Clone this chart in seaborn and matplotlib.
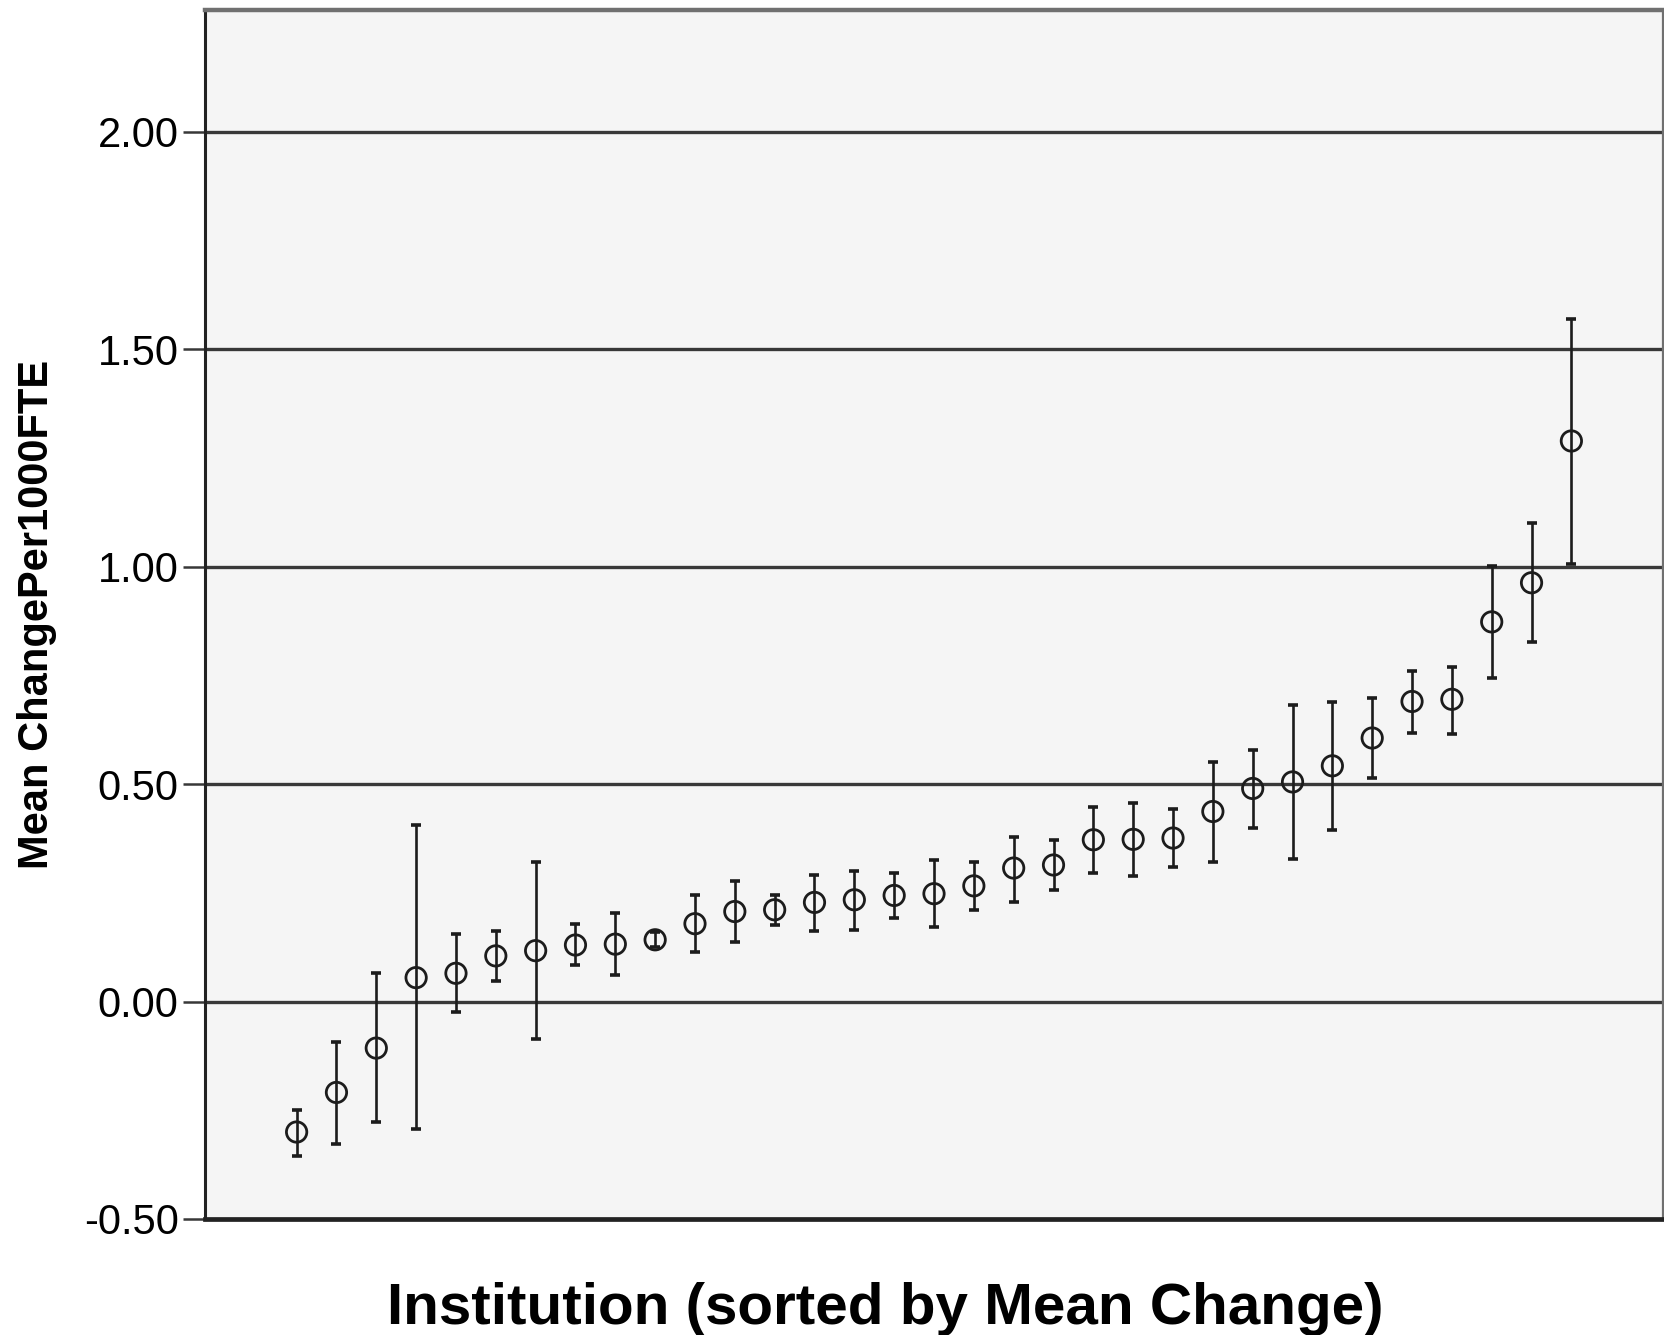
import numpy as np
import pandas as pd
import matplotlib
matplotlib.use("Agg")
import matplotlib.pyplot as plt
import seaborn as sns

# Mean change per 1000 FTE by institution, sorted ascending, with interval bounds
mean_change = [-0.300, -0.209, -0.107, 0.055, 0.065, 0.105, 0.117, 0.130, 0.132,
               0.142, 0.179, 0.207, 0.211, 0.228, 0.234, 0.244, 0.248, 0.266,
               0.307, 0.314, 0.372, 0.373, 0.376, 0.437, 0.490, 0.505, 0.542,
               0.606, 0.690, 0.695, 0.873, 0.963, 1.289]
upper_bound = [-0.249, -0.092, 0.065, 0.405, 0.156, 0.163, 0.320, 0.178, 0.203,
               0.160, 0.244, 0.278, 0.245, 0.291, 0.301, 0.295, 0.326, 0.320,
               0.379, 0.372, 0.447, 0.457, 0.443, 0.551, 0.579, 0.683, 0.689,
               0.699, 0.761, 0.770, 1.001, 1.100, 1.570]
lower_bound = [-0.355, -0.327, -0.278, -0.293, -0.024, 0.048, -0.086, 0.083, 0.062,
               0.125, 0.114, 0.136, 0.176, 0.163, 0.165, 0.192, 0.171, 0.211,
               0.230, 0.257, 0.295, 0.289, 0.310, 0.322, 0.398, 0.327, 0.394,
               0.514, 0.617, 0.616, 0.745, 0.827, 1.007]
y_ticks = [-0.50, 0.00, 0.50, 1.00, 1.50, 2.00]
y_tick_labels = ["-0.50", "0.00", "0.50", "1.00", "1.50", "2.00"]

df = pd.DataFrame({
    "institution": np.arange(len(mean_change)),
    "mean": mean_change,
    "upper": upper_bound,
    "lower": lower_bound,
})

sns.set_theme(style="white")
plt.rcParams["font.family"] = ["Liberation Sans", "DejaVu Sans"]

W, H = 1664, 1335
fig = plt.figure(figsize=(W / 100, H / 100), dpi=100)
left_px, right_px, top_px, bottom_px = 205, 1663, 10, 1219
ax = fig.add_axes([left_px / W, 1 - bottom_px / H,
                   (right_px - left_px) / W, (bottom_px - top_px) / H])
ax.set_facecolor("#f5f5f5")

# horizontal reference lines at each tick
for yv in y_ticks[1:]:
    ax.axhline(yv, color="#383838", lw=2.4, zorder=1)

# interval bars
ax.errorbar(df["institution"], df["mean"],
            yerr=[df["mean"] - df["lower"], df["upper"] - df["mean"]],
            fmt="none", ecolor="#1c1c1c", elinewidth=1.9,
            capsize=3.8, capthick=2.6, zorder=3)

# mean markers
sns.scatterplot(data=df, x="institution", y="mean", ax=ax, marker="o", s=215,
                facecolors="none", edgecolor="#1c1c1c", linewidth=2.0, zorder=4)

ax.set_xlim(-2.3, len(mean_change) - 1 + 2.3)
ax.set_ylim(-0.50, 2.28)
ax.set_xticks([])
ax.set_yticks(y_ticks)
ax.set_yticklabels(y_tick_labels)
ax.tick_params(axis="y", which="major", length=16, width=1.8, color="#383838",
               labelsize=30, labelcolor="black", pad=3, left=True)

for side, lw, col in [("left", 2.2, "#222222"), ("bottom", 3.4, "#222222"),
                      ("top", 3.2, "#707070"), ("right", 1.6, "#707070")]:
    ax.spines[side].set_visible(True)
    ax.spines[side].set_linewidth(lw)
    ax.spines[side].set_color(col)

ax.set_xlabel("Institution (sorted by Mean Change)", fontsize=42,
              fontweight="bold", va="baseline", color="black")
ax.xaxis.set_label_coords((885 - left_px) / (right_px - left_px),
                          (bottom_px - 1324) / (bottom_px - top_px))
ax.set_ylabel("Mean ChangePer1000FTE", fontsize=30, fontweight="bold",
              va="center", color="black")
ax.yaxis.set_label_coords((37 - left_px) / (right_px - left_px), 0.5)

fig.savefig("out.png", dpi=100, facecolor="white")
